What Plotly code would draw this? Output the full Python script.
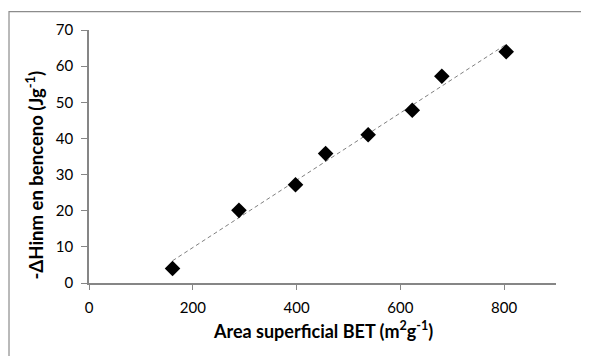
import numpy as np
import plotly.graph_objects as go

area_bet = [161, 289, 398, 456, 538, 623, 680, 804]
dh_benceno = [4.0, 20.1, 27.2, 35.8, 41.0, 47.8, 57.2, 64.0]

x_ticks = [0, 200, 400, 600, 800]
y_ticks = [0, 10, 20, 30, 40, 50, 60, 70]

x_title = "Area superficial BET (m<sup>2</sup>g<sup>-1</sup>)"
y_title = "-ΔHinm en benceno (Jg<sup>-1</sup>)"

slope, intercept = np.polyfit(area_bet, dh_benceno, 1)
trend_x = [min(area_bet), max(area_bet)]
trend_y = [slope * v + intercept for v in trend_x]

FONT = "Lato"
AXIS_COLOR = "#868686"

fig = go.Figure()
fig.add_trace(go.Scatter(
    x=trend_x, y=trend_y, mode="lines",
    line=dict(color="#808080", width=1, dash="4px,3px"),
    hoverinfo="skip", showlegend=False,
))
fig.add_trace(go.Scatter(
    x=area_bet, y=dh_benceno, mode="markers",
    marker=dict(symbol="diamond", size=12, color="black"),
    showlegend=False,
))

fig.update_layout(
    width=589, height=356,
    margin=dict(l=81, r=41, t=22, b=81),
    paper_bgcolor="white", plot_bgcolor="white",
    font=dict(family=FONT, color="#000000", size=15),
    showlegend=False,
    xaxis=dict(
        range=[0, 900], tickvals=x_ticks, showgrid=False, zeroline=False,
        showline=True, linecolor=AXIS_COLOR, linewidth=1.5,
        ticks="outside", ticklen=5, tickcolor=AXIS_COLOR, tickwidth=1,
        ticklabelstandoff=5,
        tickfont=dict(family=FONT, size=15, color="#000"),
    ),
    yaxis=dict(
        range=[0, 70], tickvals=y_ticks, showgrid=False, zeroline=False,
        showline=True, linecolor=AXIS_COLOR, linewidth=1.5,
        ticks="outside", ticklen=6, tickcolor=AXIS_COLOR, tickwidth=1,
        ticklabelstandoff=5,
        tickfont=dict(family=FONT, size=15, color="#000"),
    ),
    shapes=[dict(
        type="rect", xref="paper", yref="paper",
        x0=-0.1713, x1=1.3, y0=-0.4, y1=1.0723,
        line=dict(color="#8c8c8c", width=1.2), fillcolor="rgba(0,0,0,0)",
        layer="below",
    )],
    annotations=[
        dict(text="<b>" + x_title + "</b>", xref="paper", yref="paper",
             x=0.5, y=-0.185, xanchor="center", yanchor="middle",
             showarrow=False, font=dict(family=FONT, size=18, color="#000")),
        dict(text="<b>" + y_title + "</b>", xref="paper", yref="paper",
             x=-0.116, y=0.428, xanchor="center", yanchor="middle",
             showarrow=False, textangle=-90,
             font=dict(family=FONT, size=18.5, color="#000")),
    ],
)

fig.write_html("out.html")
